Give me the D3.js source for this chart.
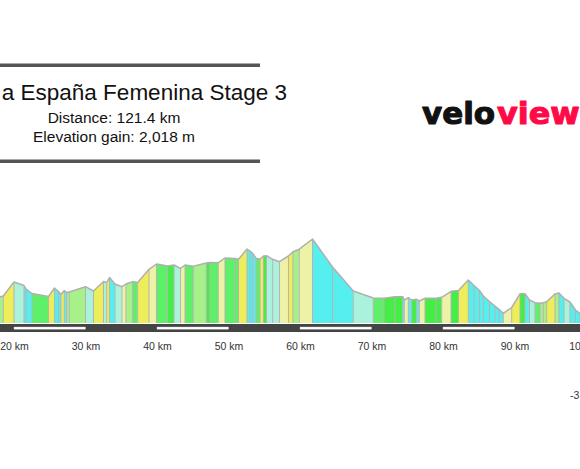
<!DOCTYPE html>
<html>
<head>
<meta charset="utf-8">
<script src="https://cdn.jsdelivr.net/npm/d3@7"></script>
<style>
    body { margin: 0; background: #fff; }
    svg { display: block; }
</style>
</head>
<body>
<script>
// stage info
var stageName = 'Vuelta a España Femenina Stage 3';
var totalDistance = 121.4;
var elevationGain = 2018;

// profile points (km along route, elevation in m)
var distanceKm = [17.7, 18.5, 20.0, 21.4, 21.68, 22.52, 24.83, 25.66, 26.22, 26.57,
    27.03, 27.37, 27.73, 30.0, 31.12, 32.52, 32.97, 33.36, 34.13, 35.1,
    35.66, 36.6, 37.3, 38.88, 39.93, 41.47, 42.38, 43.29, 43.92, 45.08,
    46.9, 47.41, 48.57, 49.51, 50.91, 51.4, 52.59, 53.01, 53.38, 53.85,
    54.41, 54.9, 55.31, 56.18, 57.13, 58.39, 59.02, 59.9, 61.75, 64.55,
    67.45, 70.25, 71.75, 73.29, 74.36, 74.59, 75.15, 75.62, 76.32, 76.69,
    77.48, 79.02, 79.82, 81.12, 82.17, 83.54, 84.34, 85.1, 85.64, 86.5,
    87.27, 87.83, 88.43, 89.61, 90.77, 91.47, 92.1, 92.87, 93.57, 94.03,
    94.5, 95.66, 96.22, 96.92, 97.76, 98.53, 99.16, 100.56];
var elevationM = [255, 270, 410, 375, 340, 295, 265, 350, 315, 285,
    325, 305, 310, 363, 320, 415, 405, 455, 390, 363,
    390, 413, 405, 537, 590, 570, 580, 547, 580, 567,
    600, 605, 603, 650, 645, 637, 740, 720, 697, 647,
    637, 670, 673, 637, 613, 670, 713, 738, 840, 560,
    320, 250, 247, 263, 263, 230, 253, 230, 237, 220,
    247, 247, 257, 317, 325, 430, 375, 325, 270, 215,
    170, 137, 97, 155, 292, 292, 230, 203, 197, 203,
    213, 290, 300, 247, 210, 130, 95, 70];

var tickKm = [10, 20, 30, 40, 50, 60, 70, 80, 90, 100, 110, 120];

// gradient bands (%) and their colours
var gradeBreaks = [-4.5, -2, 0, 1.3, 3, 6];
var gradeColors = ['#55efef', '#aaf2dc', '#5ff06a', '#44ee44', '#a8f08a', '#eef2a6', '#eeee5a'];

var svgWidth = 580;
var svgHeight = 469;

var svg = d3.select('body')
    .append('svg')
    .attr('width', svgWidth)
    .attr('height', svgHeight);

var x = d3.scaleLinear()
    .domain([0, totalDistance])
    .range([-129, 739]);

var y = d3.scaleLinear()
    .domain([0, 850])
    .range([323, 238]);

var gradeColor = d3.scaleThreshold()
    .domain(gradeBreaks)
    .range(gradeColors);

var points = distanceKm.map(function (d, i) {
    return {km: d, ele: elevationM[i]};
});

// coloured segments
var segments = d3.pairs(points);
var profile = svg.append('g');

profile.selectAll('path.seg')
    .data(segments)
    .enter()
    .append('path')
    .attr('class', 'seg')
    .attr('d', function (d) {
        return 'M' + x(d[0].km) + ',' + y(0) +
            'L' + x(d[0].km) + ',' + y(d[0].ele) +
            'L' + x(d[1].km) + ',' + y(d[1].ele) +
            'L' + x(d[1].km) + ',' + y(0) + 'Z';
    })
    .style('fill', function (d) {
        var grade = (d[1].ele - d[0].ele) / ((d[1].km - d[0].km) * 1000) * 100;
        return gradeColor(grade);
    });

profile.selectAll('line')
    .data(points)
    .enter()
    .append('line')
    .attr('x1', function (d) { return x(d.km); })
    .attr('x2', function (d) { return x(d.km); })
    .attr('y1', function (d) { return y(d.ele); })
    .attr('y2', y(0))
    .attr('stroke', '#b4b4b4')
    .attr('stroke-width', 1);

profile.append('path')
    .datum(points)
    .attr('fill', 'none')
    .attr('stroke', '#b0b0b0')
    .attr('stroke-width', 1.5)
    .attr('stroke-linejoin', 'round')
    .attr('d', d3.line()
        .x(function (d) { return x(d.km); })
        .y(function (d) { return y(d.ele); }));

// road band with km stripes
svg.append('rect')
    .attr('x', x(0))
    .attr('y', 324)
    .attr('width', x(totalDistance) - x(0))
    .attr('height', 8)
    .attr('fill', '#444');

svg.selectAll('rect.stripe')
    .data(tickKm.filter(function (d) { return (d / 10) % 2 === 0 && d < totalDistance; }))
    .enter()
    .append('rect')
    .attr('class', 'stripe')
    .attr('x', function (d) { return x(d); })
    .attr('y', 327)
    .attr('width', function (d) { return x(Math.min(d + 10, totalDistance)) - x(d); })
    .attr('height', 2.2)
    .attr('fill', '#fff')
    .attr('stroke', '#c8c8c8')
    .attr('stroke-width', 0.4);

var axis = svg.append('g')
    .attr('transform', 'translate(0,342.5)')
    .call(d3.axisBottom(x)
        .tickValues(tickKm)
        .tickSize(0)
        .tickPadding(0)
        .tickFormat(function (d) { return d + ' km'; }));
axis.select('.domain').remove();
axis.selectAll('text')
    .attr('dy', '0.71em')
    .attr('font-family', 'Liberation Sans, Arial, sans-serif')
    .attr('font-size', 10.5)
    .attr('fill', '#333');

// title block
var head = svg.append('g');
head.append('line')
    .attr('x1', -80).attr('x2', 260)
    .attr('y1', 65.3).attr('y2', 65.3)
    .attr('stroke', '#555').attr('stroke-width', 3.5);
head.append('line')
    .attr('x1', -80).attr('x2', 260)
    .attr('y1', 161.3).attr('y2', 161.3)
    .attr('stroke', '#555').attr('stroke-width', 3.5);
head.append('text')
    .attr('x', 287)
    .attr('y', 99.5)
    .attr('text-anchor', 'end')
    .attr('font-family', 'Liberation Sans, Arial, sans-serif')
    .attr('font-size', 22.5)
    .attr('fill', '#111')
    .text(stageName);
head.append('text')
    .attr('x', 114)
    .attr('y', 122.7)
    .attr('text-anchor', 'middle')
    .attr('font-family', 'Liberation Sans, Arial, sans-serif')
    .attr('font-size', 15.5)
    .attr('fill', '#111')
    .text('Distance: ' + totalDistance + ' km');
head.append('text')
    .attr('x', 114)
    .attr('y', 141.7)
    .attr('text-anchor', 'middle')
    .attr('font-family', 'Liberation Sans, Arial, sans-serif')
    .attr('font-size', 15.5)
    .attr('fill', '#111')
    .text('Elevation gain: ' + d3.format(',')(elevationGain) + ' m');

// logo
var logo = svg.append('g')
    .attr('font-family', 'DejaVu Sans, sans-serif')
    .attr('font-weight', 'bold')
    .attr('font-size', 30)
    .attr('stroke-width', 1.1)
    .attr('stroke-linejoin', 'round');
logo.append('text')
    .attr('x', 422)
    .attr('y', 123.5)
    .attr('textLength', 73)
    .attr('lengthAdjust', 'spacingAndGlyphs')
    .attr('fill', '#111')
    .attr('stroke', '#111')
    .text('velo');
logo.append('text')
    .attr('x', 497)
    .attr('y', 123.5)
    .attr('textLength', 120)
    .attr('lengthAdjust', 'spacingAndGlyphs')
    .attr('fill', '#ff0a47')
    .attr('stroke', '#ff0a47')
    .text('viewer');

// stray scale label at the lower right
svg.append('text')
    .attr('x', 570)
    .attr('y', 399)
    .attr('font-family', 'Liberation Sans, Arial, sans-serif')
    .attr('font-size', 10.5)
    .attr('fill', '#333')
    .text('-3');
</script>
</body>
</html>
